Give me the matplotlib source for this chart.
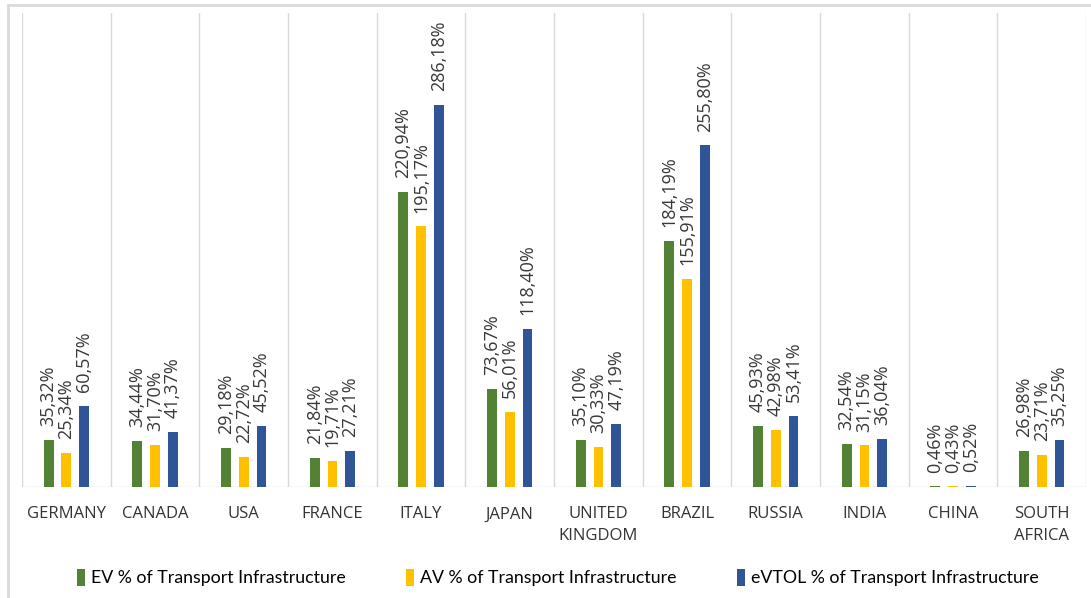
import numpy as np
import matplotlib.pyplot as plt
from matplotlib.patches import Patch, Rectangle

countries = ["GERMANY", "CANADA", "USA", "FRANCE", "ITALY", "JAPAN",
             "UNITED\nKINGDOM", "BRAZIL", "RUSSIA", "INDIA", "CHINA",
             "SOUTH\nAFRICA"]
ev_pct = [35.32, 34.44, 29.18, 21.84, 220.94, 73.67, 35.10, 184.19,
          45.93, 32.54, 0.46, 26.98]
av_pct = [25.34, 31.70, 22.72, 19.71, 195.17, 56.01, 30.33, 155.91,
          42.98, 31.15, 0.43, 23.71]
evtol_pct = [60.57, 41.37, 45.52, 27.21, 286.18, 118.40, 47.19, 255.80,
             53.41, 36.04, 0.52, 35.25]
series_names = ["EV % of Transport Infrastructure",
                "AV % of Transport Infrastructure",
                "eVTOL % of Transport Infrastructure"]
colors = ["#548235", "#FFC000", "#2F5597"]

fig = plt.figure(figsize=(10.91, 5.98), dpi=100)
ax = fig.add_axes([0.0202, 0.1856, 0.9753, 0.7926])

# light frame around the whole chart
fig.patches.append(Rectangle((8 / 1091, -0.05), 1.1, 1.05 - 5 / 598,
                             transform=fig.transFigure, fill=False,
                             edgecolor="#d9d9d9", linewidth=2))

x = np.arange(len(countries))
width = 0.11
offsets = [-0.2, 0.0, 0.2]

for vals, off, col in zip([ev_pct, av_pct, evtol_pct], offsets, colors):
    bars = ax.bar(x + off, vals, width, color=col, zorder=3)
    for b, v in zip(bars, vals):
        ax.annotate(f"{v:.2f}".replace(".", ",") + "%",
                    (b.get_x() + b.get_width() / 2, v),
                    xytext=(0, 10), textcoords="offset points",
                    rotation=90, ha="center", va="bottom",
                    fontsize=13, family=["Open Sans", "DejaVu Sans"],
                    color="#383838")

# category separators and baseline
for edge in np.arange(-0.5, len(countries), 1.0):
    ax.axvline(edge, color="#d9d9d9", linewidth=1, zorder=1)
ax.axhline(0, color="#d9d9d9", linewidth=1, zorder=2)

ax.set_xlim(-0.5, len(countries) - 0.5)
ax.set_ylim(0, 355)
ax.set_yticks([])
ax.set_xticks(x)
ax.set_xticklabels(countries, fontsize=12, family=["Open Sans", "DejaVu Sans"],
                   color="#333333", linespacing=1.5, va="top")
ax.tick_params(axis="x", length=0, pad=14)
for s in ax.spines.values():
    s.set_visible(False)

handles = [Patch(facecolor=c, edgecolor="none") for c in colors]
fig.legend(handles, series_names, loc="center", bbox_to_anchor=(0.511, 0.034),
           ncol=3, frameon=False, handlelength=0.45, handleheight=1.1,
           handletextpad=0.35, columnspacing=3.4,
           prop={"family": ["Lato", "DejaVu Sans"], "size": 12.75})

fig.savefig("out.png", dpi=100, facecolor="white")
